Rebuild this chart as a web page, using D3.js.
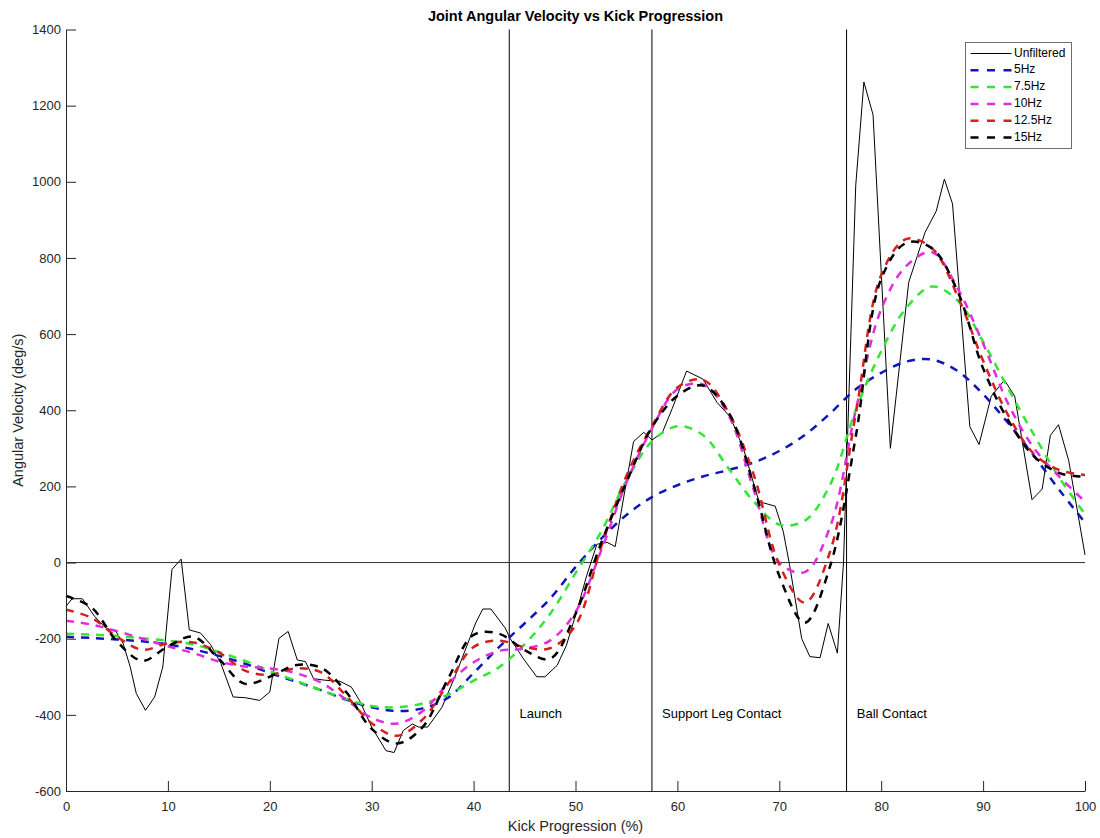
<!DOCTYPE html>
<html>
<head>
<meta charset="utf-8">
<script src="https://cdn.jsdelivr.net/npm/d3@7"></script>
<style>
  body { margin: 0; background: #fff; }
  text { font-family: "Liberation Sans", Arial, sans-serif; }
</style>
</head>
<body>
<div id="chart"></div>
<script>
// kick progression (%) grid for the filtered curves
const progress = [0, 2.5, 5, 7.5, 10, 12.5, 15, 17.5, 20, 22.5, 25, 27.5, 30, 32.5, 35, 37.5, 40, 42.5, 45, 47.5,
  50, 52.5, 55, 57.5, 60, 62.5, 65, 67.5, 70, 72.5, 75, 77.5, 80, 82.5, 85, 87.5, 90, 92.5, 95, 97.5, 100];

const hz5 = [-195, -198, -202, -207, -215, -228, -245, -265, -290, -312, -335, -360, -380, -390, -383, -355, -290, -222, -160, -95,
  -12, 62, 125, 172, 203, 226, 243, 263, 293, 335, 392, 455, 498, 528, 533, 503, 442, 365, 280, 190, 105];
const hz7_5 = [-187, -189, -193, -199, -205, -215, -235, -258, -285, -310, -335, -358, -377, -380, -370, -347, -310, -275, -215, -135,
  -28, 80, 215, 318, 358, 335, 248, 160, 100, 110, 205, 400, 555, 670, 725, 688, 580, 455, 335, 222, 127];
const hz10 = [-153, -163, -180, -200, -220, -238, -260, -273, -278, -290, -315, -360, -408, -423, -390, -318, -262, -232, -226, -205,
  -130, 30, 210, 352, 455, 468, 388, 190, 0, -25, 95, 400, 665, 780, 815, 720, 575, 415, 300, 225, 160];
const hz12_5 = [-124, -145, -195, -229, -212, -210, -236, -283, -295, -278, -288, -350, -422, -455, -412, -318, -222, -205, -222, -225,
  -165, 40, 228, 358, 460, 480, 395, 230, -5, -105, 30, 390, 755, 850, 825, 700, 530, 385, 285, 243, 230];
const hz15 = [-88, -118, -207, -258, -220, -195, -253, -318, -300, -270, -276, -340, -437, -475, -432, -305, -190, -187, -230, -253,
  -135, 50, 211, 355, 438, 465, 395, 202, -35, -158, -8, 330, 745, 840, 825, 712, 510, 372, 279, 235, 225];

// unfiltered signal, read at its vertices
const unfilteredX = [0, 0.6, 1.6, 2.8, 3.9, 4.9, 5.6, 6.3, 6.9, 7.8, 8.7, 9.5, 10.4, 11.3, 12.1, 13.2, 14.2, 15.2, 16.4, 17.6,
  19.0, 20.0, 20.9, 21.8, 22.7, 23.5, 24.3, 25.4, 26.9, 28.0, 28.8, 30.0, 31.4, 32.2, 33.1, 34.0, 34.6, 35.5, 36.9, 38.3,
  40.2, 40.9, 41.7, 43.1, 43.6, 44.9, 46.2, 47.0, 48.2, 49.1, 50.1, 51.1, 52.1, 53.1, 53.9, 54.7, 55.7, 56.7, 57.5, 58.5,
  59.5, 60.9, 62.5, 63.9, 65.2, 66.5, 68.0, 69.6, 70.4, 71.0, 72.2, 73.0, 74.0, 74.8, 75.7, 76.3, 77.5, 78.3, 79.2, 80.9,
  82.7, 84.3, 85.4, 86.2, 87.0, 88.7, 89.6, 90.8, 92.1, 93.1, 94.8, 95.8, 96.6, 97.4, 98.4, 100];
const unfilteredY = [-115, -95, -95, -141, -172, -181, -212, -274, -344, -388, -353, -274, -18, 9, -177, -185, -216, -265, -353, -355,
  -362, -340, -199, -181, -256, -260, -305, -309, -312, -327, -362, -432, -494, -499, -441, -424, -432, -432, -380, -291,
  -159, -122, -122, -172, -200, -253, -300, -300, -270, -218, -130, -34, 48, 53, 42, 167, 318, 342, 322, 340,
  405, 503, 482, 420, 382, 298, 160, 148, 80, -5, -200, -247, -250, -160, -238, 0, 990, 1262, 1176, 300,
  736, 867, 923, 1007, 942, 357, 310, 437, 479, 437, 165, 193, 334, 362, 268, 20];

const seriesNames = ["5Hz", "7.5Hz", "10Hz", "12.5Hz", "15Hz"];
const seriesColors = ["#1016b8", "#33e633", "#e02de0", "#d42020", "#000000"];
const seriesValues = [hz5, hz7_5, hz10, hz12_5, hz15];

const eventNames = ["Launch", "Support Leg Contact", "Ball Contact"];
const eventPos = [43.5, 57.5, 76.6];

const xTicks = [0, 10, 20, 30, 40, 50, 60, 70, 80, 90, 100];
const yTicks = [-600, -400, -200, 0, 200, 400, 600, 800, 1000, 1200, 1400];

const width = 1100, height = 838;
const plotLeft = 66, plotRight = 1085, plotTop = 29.5, plotBottom = 791;
const axisColor = "#262626";

const svg = d3.select("#chart").append("svg")
  .attr("width", width)
  .attr("height", height);

const x = d3.scaleLinear().domain([0, 100]).range([plotLeft, plotRight]);
const y = d3.scaleLinear().domain([-600, 1400]).range([plotBottom, plotTop]);

// zero line
svg.append("line")
  .attr("x1", x(0)).attr("x2", x(100))
  .attr("y1", y(0)).attr("y2", y(0))
  .attr("stroke", "#333").attr("stroke-width", 1);

// event lines + labels
eventPos.forEach((p, i) => {
  svg.append("line")
    .attr("x1", x(p)).attr("x2", x(p))
    .attr("y1", y(1400)).attr("y2", y(-600))
    .attr("stroke", "#000").attr("stroke-width", 1);
  svg.append("text")
    .attr("x", x(p + 1)).attr("y", y(-400))
    .attr("dominant-baseline", "middle")
    .style("font-size", "13px")
    .attr("fill", "#000")
    .text(eventNames[i]);
});

const unfLine = d3.line()
  .x((d, i) => x(unfilteredX[i]))
  .y(d => y(d));

svg.append("path")
  .datum(unfilteredY)
  .attr("d", unfLine)
  .attr("fill", "none")
  .attr("stroke", "#000")
  .attr("stroke-width", 1);

const smoothLine = d3.line()
  .x((d, i) => x(progress[i]))
  .y(d => y(d))
  .curve(d3.curveCatmullRom.alpha(0.5));

seriesValues.forEach((vals, i) => {
  svg.append("path")
    .datum(vals)
    .attr("d", smoothLine)
    .attr("fill", "none")
    .attr("stroke", seriesColors[i])
    .attr("stroke-width", 2.5)
    .attr("stroke-dasharray", "8,7");
});

// axes (box off, ticks inward)
const plainNum = d => String(d);
const yAxis = svg.append("g")
  .attr("transform", `translate(${plotLeft},0)`)
  .call(d3.axisLeft(y).tickValues(yTicks).tickFormat(plainNum).tickSize(-10).tickSizeOuter(0).tickPadding(5));
const xAxis = svg.append("g")
  .attr("transform", `translate(0,${plotBottom})`)
  .call(d3.axisBottom(x).tickValues(xTicks).tickFormat(plainNum).tickSize(-10).tickSizeOuter(0).tickPadding(11));

[xAxis, yAxis].forEach(g => {
  g.select(".domain").attr("stroke", axisColor);
  g.selectAll(".tick line").attr("stroke", axisColor);
  g.selectAll(".tick text")
    .attr("fill", axisColor)
    .style("font-size", "13px")
    .style("font-family", "'Liberation Sans', Arial, sans-serif");
});

// title and labels
svg.append("text")
  .attr("x", (plotLeft + plotRight) / 2).attr("y", 21)
  .attr("text-anchor", "middle")
  .style("font-size", "14.5px").style("font-weight", "bold")
  .attr("fill", "#000")
  .text("Joint Angular Velocity vs Kick Progression");

svg.append("text")
  .attr("x", (plotLeft + plotRight) / 2).attr("y", 831)
  .attr("text-anchor", "middle")
  .style("font-size", "14.5px")
  .attr("fill", axisColor)
  .text("Kick Progression (%)");

svg.append("text")
  .attr("transform", `translate(23,${(plotTop + plotBottom) / 2}) rotate(-90)`)
  .attr("text-anchor", "middle")
  .style("font-size", "14.5px")
  .attr("fill", axisColor)
  .text("Angular Velocity (deg/s)");

// legend
const legend = svg.append("g");
legend.append("rect")
  .attr("x", 965.5).attr("y", 42.5)
  .attr("width", 106).attr("height", 106)
  .attr("fill", "#fff")
  .attr("stroke", "#6e6e6e").attr("stroke-width", 1);

const legendNames = ["Unfiltered"].concat(seriesNames);
const legendColors = ["#000"].concat(seriesColors);
legendNames.forEach((name, i) => {
  const ly = 53.5 + i * 16.8;
  legend.append("line")
    .attr("x1", 970.5).attr("x2", 1011.5)
    .attr("y1", ly).attr("y2", ly)
    .attr("stroke", legendColors[i])
    .attr("stroke-width", i === 0 ? 1 : 2.5)
    .attr("stroke-dasharray", i === 0 ? null : "8,8.5");
  legend.append("text")
    .attr("x", 1014).attr("y", ly)
    .attr("dominant-baseline", "middle")
    .style("font-size", "12px")
    .attr("fill", "#000")
    .text(name);
});
</script>
</body>
</html>
